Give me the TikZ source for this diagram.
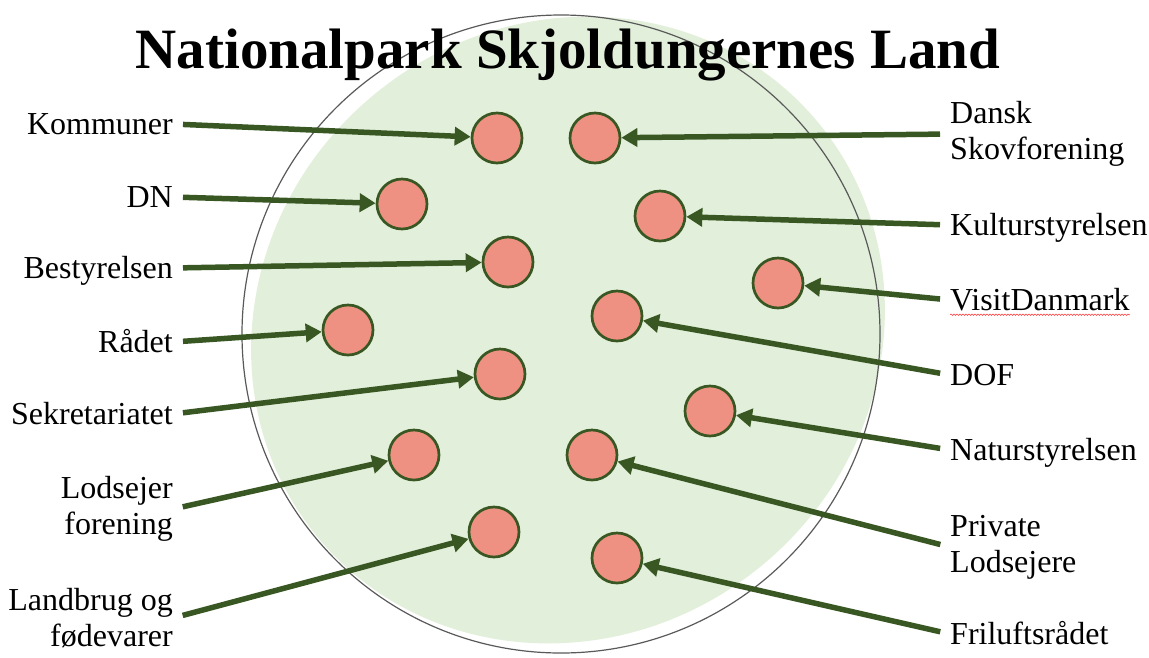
\documentclass[tikz,border=0pt]{standalone}
\usepackage{fontspec}
\setmainfont{Liberation Serif}
\usepackage{xcolor}
\usepackage{tikz}
\usetikzlibrary{positioning,arrows.meta,decorations.pathmorphing}
\definecolor{parkfill}{HTML}{E2EFDA}
\definecolor{parkgreen}{HTML}{385723}
\definecolor{memberfill}{HTML}{EE9182}
\definecolor{rimgray}{HTML}{595959}
\tikzset{
  park/.style     = {fill=parkfill, draw=none},
  rim/.style      = {draw=rimgray, line width=1.2pt},
  member/.style   = {circle, minimum size=50pt, inner sep=0pt, fill=memberfill, draw=parkgreen, line width=2.7pt},
  heading/.style  = {font=\fontsize{57}{68}\selectfont\bfseries, inner sep=0pt, anchor=base},
  lbl/.style      = {font=\fontsize{32}{36}\selectfont, inner sep=0pt},
  lblone/.style   = {lbl, text height=21pt, text depth=0pt},
  lblleft/.style  = {anchor=east, align=right},
  lblright/.style = {anchor=west, align=left},
  pil/.style      = {-{Triangle[length=16pt,width=18pt]}, draw=parkgreen, line width=5.5pt, shorten <=10pt},
  squiggle/.style = {draw=red!75, line width=0.6pt, decorate, decoration={snake, amplitude=0.7pt, segment length=3pt}},
}

\begin{document}
\begin{tikzpicture}[x=1pt,y=-1pt]
  \useasboundingbox (0,0) rectangle (1149,657);

  % ---- the park ----
  \fill[park, rotate around={40:(568,330)}] (568,330) ellipse [x radius=325, y radius=305];
  \draw[rim] (561,334) circle [radius=319];
  \node[heading] (title) at (568,68) {Nationalpark Skjoldungernes Land};

  % ---- members ----
  \foreach \n/\x/\y in {kom/497/138, dn/402/204, bes/508/262, raa/348/330, sek/500/374, lod/414/455, lan/494/532,
                        dsk/595/138, kul/660/216, vis/778/283, dof/617/316, nat/710/411, pri/592/455, fri/617/558} {
    \node[member] (c-\n) at (\x,\y) {};
  }

  % ---- left side ----
  \foreach \n/\t/\y in {kom/Kommuner/124, dn/DN/197, bes/Bestyrelsen/268, raa/Rådet/342, sek/Sekretariatet/414} {
    \node[lblone, lblleft] (l-\n) at (173,\y) {\t};
    \draw[pil] (l-\n.east) -- (c-\n);
  }
  \node[lbl, lblleft] (l-lod) at (173,509) {Lodsejer\\forening};
  \draw[pil] (l-lod.east) -- (c-lod);
  \node[lbl, lblleft] (l-lan) at (173,618) {Landbrug og\\fødevarer};
  \draw[pil] (l-lan.east) -- (c-lan);

  % ---- right side ----
  \foreach \n/\t/\y in {kul/Kulturstyrelsen/225, vis/VisitDanmark/300, dof/DOF/375, nat/Naturstyrelsen/450, fri/Friluftsrådet/634} {
    \node[lblone, lblright] (l-\n) at (950,\y) {\t};
    \draw[pil] (l-\n.west) -- (c-\n);
  }
  \node[lbl, lblright] (l-dsk) at (950,134) {Dansk\\Skovforening};
  \draw[pil] (l-dsk.west) -- (c-dsk);
  \node[lbl, lblright] (l-pri) at (950,547) {Private\\Lodsejere};
  \draw[pil] (l-pri.west) -- (c-pri);

  \draw[squiggle] ([yshift=-4pt]l-vis.south west) -- ([yshift=-4pt]l-vis.south east);
\end{tikzpicture}
\end{document}
